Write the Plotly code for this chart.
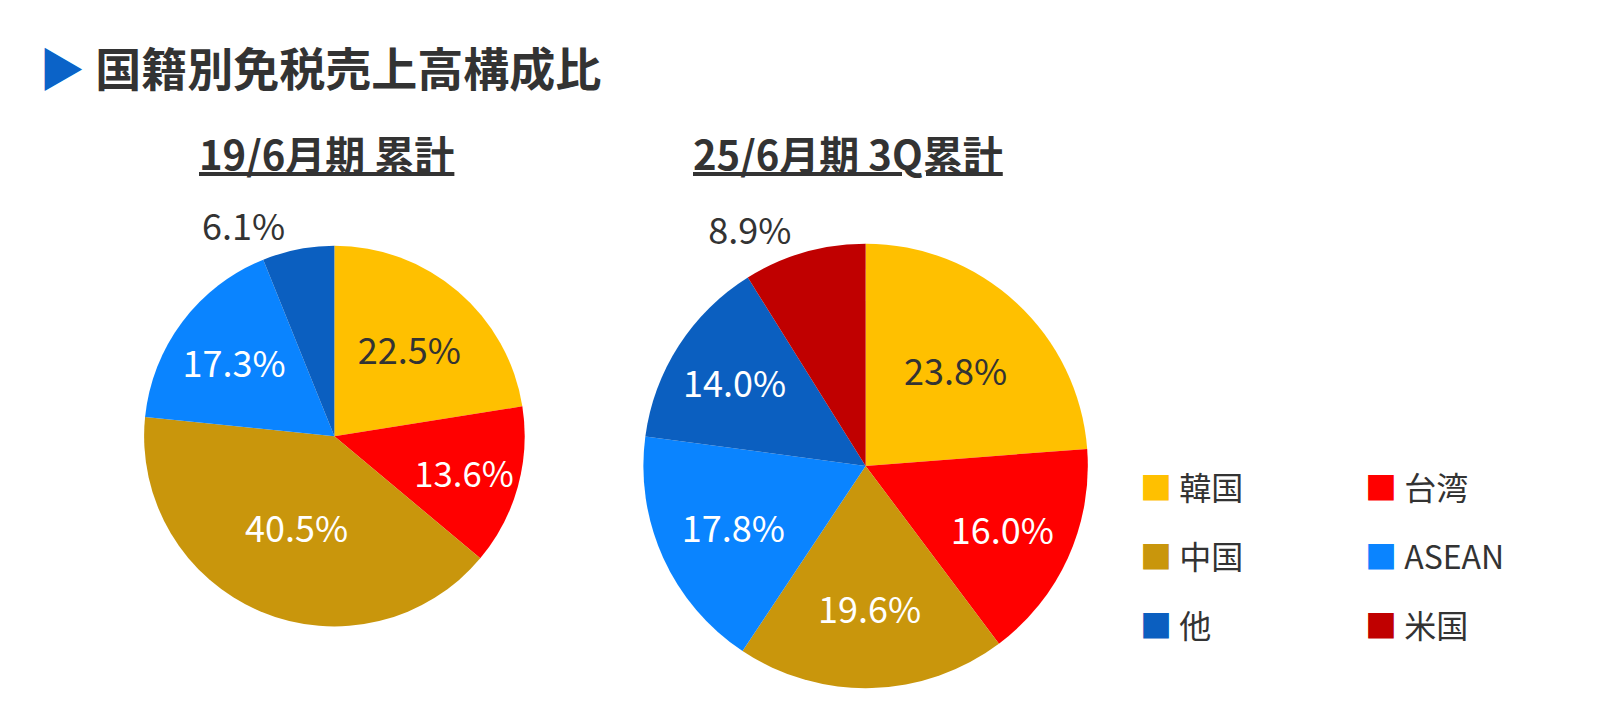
import plotly.graph_objects as go

labels_19 = ['韓国', '台湾', '中国', 'ASEAN', '他']
values_19 = [22.5, 13.6, 40.5, 17.3, 6.1]
labels_25 = ['韓国', '台湾', '中国', 'ASEAN', '他', '米国']
values_25 = [23.8, 16.0, 19.6, 17.8, 14.0, 8.9]

colors = {'韓国': '#FFC000', '台湾': '#FF0000', '中国': '#C9960C',
          'ASEAN': '#0A84FF', '他': '#0B5FC0', '米国': '#C00000'}
legend_order = [['韓国', '台湾'], ['中国', 'ASEAN'], ['他', '米国']]

FONT = 'Noto Sans CJK JP'
DARK = '#333333'


def text_colors(labels):
    return [DARK if l == '韓国' else 'white' for l in labels]


def positions(labels, outside):
    return ['outside' if l == outside else 'inside' for l in labels]


fig = go.Figure()
fig.add_trace(go.Pie(
    labels=labels_19, values=values_19, sort=False, direction='clockwise', rotation=0,
    marker=dict(colors=[colors[l] for l in labels_19]),
    texttemplate='%{value:.1f}%', textposition=positions(labels_19, '他'),
    insidetextfont=dict(color=text_colors(labels_19), size=36, family=FONT),
    outsidetextfont=dict(color=DARK, size=36, family=FONT),
    insidetextorientation='horizontal', showlegend=False, hoverinfo='label+value',
    domain=dict(x=[0.085, 0.323], y=[0.129, 0.665]),
))
fig.add_trace(go.Pie(
    labels=labels_25, values=values_25, sort=False, direction='clockwise', rotation=0,
    marker=dict(colors=[colors[l] for l in labels_25]),
    texttemplate='%{value:.1f}%', textposition=positions(labels_25, '米国'),
    insidetextfont=dict(color=text_colors(labels_25), size=36, family=FONT),
    outsidetextfont=dict(color=DARK, size=36, family=FONT),
    insidetextorientation='horizontal', showlegend=False, hoverinfo='label+value',
    domain=dict(x=[0.397, 0.675], y=[0.042, 0.668]),
))

ann = [
    dict(x=0.018, y=0.918, xanchor='left',
         text='<span style="color:#0B63C8">▶</span> <b>国籍別免税売上高構成比</b>',
         font=dict(size=46, color=DARK, family=FONT)),
    dict(x=0.199, y=0.796, xanchor='center', text='<b><u>19/6月期 累計</u></b>',
         font=dict(size=40, color=DARK, family=FONT)),
    dict(x=0.525, y=0.796, xanchor='center', text='<b><u>25/6月期 3Q累計</u></b>',
         font=dict(size=40, color=DARK, family=FONT)),
]
for r, row in enumerate(legend_order):
    for c, name in enumerate(row):
        ann.append(dict(
            x=0.706 + c * 0.141, y=0.327 - r * 0.097, xanchor='left',
            text=f'<span style="color:{colors[name]}">■</span> {name}',
            font=dict(size=32, color=DARK, family=FONT)))
for a in ann:
    a.update(xref='paper', yref='paper', showarrow=False, yanchor='middle')

fig.update_layout(
    width=1600, height=710, margin=dict(l=0, r=0, t=0, b=0),
    paper_bgcolor='white', plot_bgcolor='white',
    font=dict(family=FONT, color=DARK), annotations=ann,
)
fig.write_html('out.html')
